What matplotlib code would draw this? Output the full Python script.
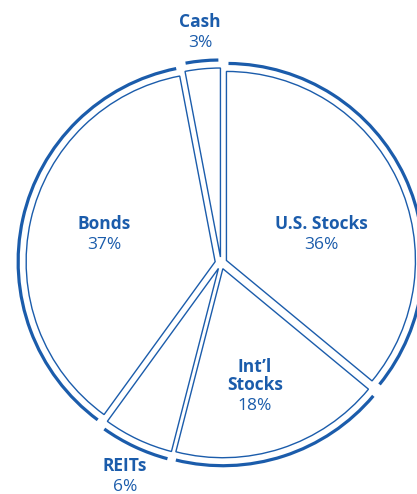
import numpy as np
import matplotlib
matplotlib.use("Agg")
import matplotlib.pyplot as plt
from matplotlib.patches import Arc

labels = ["U.S. Stocks", "Int\u2019l\nStocks", "REITs", "Bonds", "Cash"]
shares = [36, 18, 6, 37, 3]

BLUE = "#1b5cab"
W, H = 417, 494
CENTER = (221, H - 263)
R_WEDGE = 189
R_RING = 197
EXPLODE = 6  # data units == pixels here

# text anchor (x, y) in pixel coords of the image, top-left origin
LABEL_POS = {
    "U.S. Stocks": (321, 224),
    "Int\u2019l\nStocks": (255, 376),
    "REITs": (125, 466),
    "Bonds": (104, 224),
    "Cash": (200, 22),
}

fig = plt.figure(figsize=(W / 100, H / 100), dpi=100)
ax = fig.add_axes([0, 0, 1, 1])

wedges, _ = ax.pie(shares, startangle=90, counterclock=False, radius=R_WEDGE,
                   center=CENTER, explode=[EXPLODE] * len(shares),
                   wedgeprops=dict(facecolor="white", edgecolor=BLUE, lw=1.0))
ax.set_xlim(0, W)
ax.set_ylim(0, H)
ax.set_aspect("equal")
ax.axis("off")

for w in wedges:
    cx, cy = w.center
    ax.add_patch(Arc((cx, cy), 2 * R_RING, 2 * R_RING, theta1=w.theta1 + 0.6,
                     theta2=w.theta2 - 0.6, color=BLUE, lw=2.3))

for lab, pct in zip(labels, shares):
    x, y = LABEL_POS[lab]
    nlines = lab.count("\n")
    ax.text(x, H - y, lab, ha="center", va="center", fontsize=12.5,
            fontweight="bold", color=BLUE, family="Open Sans", linespacing=0.95)
    ax.text(x, H - y - 21 - nlines * 9, f"{pct}%", ha="center", va="center",
            fontsize=12.5, color=BLUE, family="Open Sans")

fig.savefig("out.png", dpi=100)
